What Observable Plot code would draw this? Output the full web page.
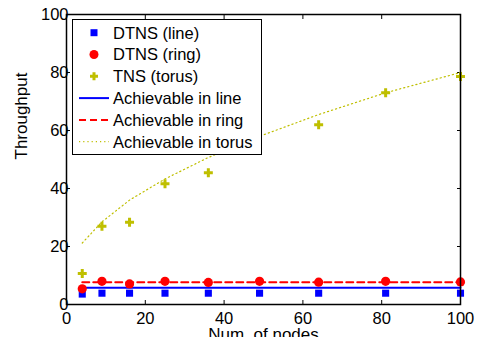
<!DOCTYPE html>
<html><head><meta charset="utf-8">
<script src="https://cdn.jsdelivr.net/npm/d3@7"></script>
<script src="https://cdn.jsdelivr.net/npm/@observablehq/plot@0.6"></script>
<style>body{margin:0;background:#fff} svg{display:block}</style>
</head><body><div id="chart"></div>
<script>
// ---- data ----
const nodes = [4, 9, 16, 25, 36, 49, 64, 81, 100];
const dtnsLine = [3.6, 3.9, 3.9, 3.9, 3.9, 3.9, 3.9, 3.9, 3.9];
const dtnsRing = [5.4, 8.0, 7.1, 8.0, 7.6, 8.0, 7.7, 8.0, 7.8];
const tnsTorusX = [4, 9, 16, 25, 36, 64, 81, 100];
const tnsTorus = [10.7, 27.0, 28.4, 41.6, 45.4, 62.0, 73.0, 78.6];
const achX = [4, 100];
const achLine = [5.8, 5.8];
const achRing = [7.7, 7.7];
const achTorusX = [4, 9, 16, 25, 36, 49, 64, 81, 100];
const achTorus = [21.2, 28.5, 36.0, 43.3, 50.7, 58.0, 65.5, 73.0, 80.0];
const xTicks = [0, 20, 40, 60, 80, 100];
const yTicks = [0, 20, 40, 60, 80, 100];
const legendLabels = ["DTNS (line)", "DTNS (ring)", "TNS (torus)", "Achievable in line", "Achievable in ring", "Achievable in torus"];
const xLabel = "Num. of nodes";
const yLabel = "Throughput";

const BLUE = "#0000ff", RED = "#ff0000", YEL = "#bfbf00";
const FS = 16.5;

const zip = (xs, ys) => xs.map((x, i) => ({x, y: ys[i]}));

function legendMark() {
  const g = d3.create("svg:g").attr("font-family", "Liberation Sans, Arial, sans-serif").attr("font-size", FS);
  g.append("rect").attr("x", 72.5).attr("y", 19.5).attr("width", 189).attr("height", 135)
    .attr("fill", "white").attr("stroke", "black").attr("stroke-width", 1);
  const x0 = 79, x1 = 109, xm = 94, xt = 113;
  legendLabels.forEach((lab, i) => {
    const cy = 32.7 + i * 21.8;
    if (i === 0) g.append("rect").attr("x", xm - 3.5).attr("y", cy - 3.5).attr("width", 7).attr("height", 7).attr("fill", BLUE);
    if (i === 1) g.append("circle").attr("cx", xm).attr("cy", cy).attr("r", 4.5).attr("fill", RED);
    if (i === 2) g.append("path").attr("d", `M${xm-4},${cy}H${xm+4}M${xm},${cy-4}V${cy+4}`).attr("stroke", YEL).attr("stroke-width", 3).attr("fill", "none");
    if (i === 3) g.append("line").attr("x1", x0).attr("x2", x1).attr("y1", cy).attr("y2", cy).attr("stroke", BLUE).attr("stroke-width", 2);
    if (i === 4) g.append("line").attr("x1", x0).attr("x2", x1).attr("y1", cy).attr("y2", cy).attr("stroke", RED).attr("stroke-width", 2).attr("stroke-dasharray", "7,4");
    if (i === 5) g.append("line").attr("x1", x0).attr("x2", x1).attr("y1", cy).attr("y2", cy).attr("stroke", YEL).attr("stroke-width", 1.2).attr("stroke-dasharray", "1.2,3");
    g.append("text").attr("x", xt).attr("y", cy).attr("dy", "0.36em").attr("text-anchor", "start").attr("fill", "black").text(lab);
  });
  return g.node();
}

const chart = Plot.plot({
  width: 479,
  height: 337,
  marginLeft: 66,
  marginRight: 19,
  marginTop: 14,
  marginBottom: 33,
  style: {fontFamily: "Liberation Sans, Arial, sans-serif", fontSize: FS + "px", color: "black", background: "white"},
  x: {domain: [0, 100]},
  y: {domain: [0, 100]},
  marks: [
    Plot.axisX({anchor: "bottom", ticks: xTicks, tickSize: -4, tickPadding: 12, label: null, fontSize: FS}),
    Plot.axisX({anchor: "top", ticks: xTicks, tickSize: -4, tickFormat: () => "", label: null}),
    Plot.axisY({anchor: "left", ticks: yTicks, tickSize: -4, tickPadding: 2, label: null, fontSize: FS}),
    Plot.axisY({anchor: "right", ticks: yTicks, tickSize: -4, tickFormat: () => "", label: null}),
    Plot.line(zip(achTorusX, achTorus), {x: "x", y: "y", stroke: YEL, strokeWidth: 1.2, strokeDasharray: "1.2,3", curve: "linear"}),
    Plot.line(zip(achX, achRing), {x: "x", y: "y", stroke: RED, strokeWidth: 2, strokeDasharray: "7,4"}),
    Plot.line(zip(achX, achLine), {x: "x", y: "y", stroke: BLUE, strokeWidth: 2}),
    Plot.dot(zip(nodes, dtnsLine), {x: "x", y: "y", symbol: "square", r: 4, fill: BLUE}),
    Plot.dot(zip(nodes, dtnsRing), {x: "x", y: "y", symbol: "circle", r: 4.6, fill: RED}),
    Plot.dot(zip(tnsTorusX, tnsTorus), {x: "x", y: "y", symbol: "plus", r: 3, stroke: YEL, strokeWidth: 3}),
    Plot.frame({stroke: "black", strokeWidth: 1.5}),
    Plot.text([yLabel], {frameAnchor: "left", dx: -45, rotate: -90, fontSize: 17, fill: "black"}),
    Plot.text([xLabel], {frameAnchor: "bottom", dy: 23, lineAnchor: "top", fontSize: 17, fill: "black"}),
    legendMark
  ]
});
document.getElementById("chart").append(chart);
</script>
</body></html>
